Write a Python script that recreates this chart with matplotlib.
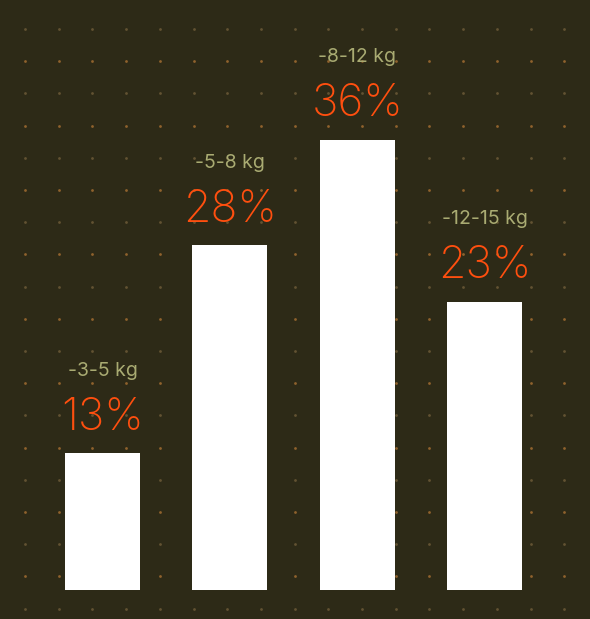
import numpy as np
import matplotlib.pyplot as plt

# --- data ---
ranges = ['-3-5 kg', '-5-8 kg', '-8-12 kg', '-12-15 kg']
pct_labels = ['13%', '28%', '36%', '23%']
bar_heights = [10.96, 27.6, 36.0, 23.04]   # drawn heights (first bar is shorter than its label says)

BG = '#2d2a17'
KG_COLOR = '#a9ab72'
PCT_COLOR = '#ff4f0f'

W, H, DPI = 590, 619, 100
fig = plt.figure(figsize=(W / DPI, H / DPI), dpi=DPI, facecolor=BG)

# background dot pattern, in pixel space
bg = fig.add_axes([0, 0, 1, 1], zorder=0)
bg.set_xlim(0, W)
bg.set_ylim(H, 0)
bg.axis('off')
bg.set_facecolor(BG)
cols = 25 + 33.7 * np.arange(17)
rows = 29 + 32.2 * np.arange(19)
for k, yy in enumerate(rows):
    c = '#8f622d' if k % 2 else '#625232'
    bg.scatter(cols, np.full_like(cols, yy), s=4, color=c, linewidths=0)

# bars
ax = fig.add_axes([0, 0, 1, 1], zorder=1)
ax.patch.set_alpha(0)
x = np.arange(len(ranges))
step = 127.33
ax.set_xlim(-102.5 / step, (W - 102.5) / step)
ax.set_ylim(-29 / 12.5, (H - 29) / 12.5)
ax.axis('off')
ax.bar(x, bar_heights, width=75 / step, color='white', zorder=2)

for xi, h, kg, p in zip(x, bar_heights, ranges, pct_labels):
    ax.annotate(p, (xi, h), xytext=(0, 23.5 * 0.72), textcoords='offset points',
                ha='center', va='baseline', fontsize=32, color=PCT_COLOR,
                family=['Inter', 'DejaVu Sans'], fontweight='light')
    ax.annotate(kg, (xi, h), xytext=(0, 77.5 * 0.72), textcoords='offset points',
                ha='center', va='baseline', fontsize=14, color=KG_COLOR,
                family=['Inter', 'DejaVu Sans'])

fig.savefig('out.png', dpi=DPI, facecolor=BG)
